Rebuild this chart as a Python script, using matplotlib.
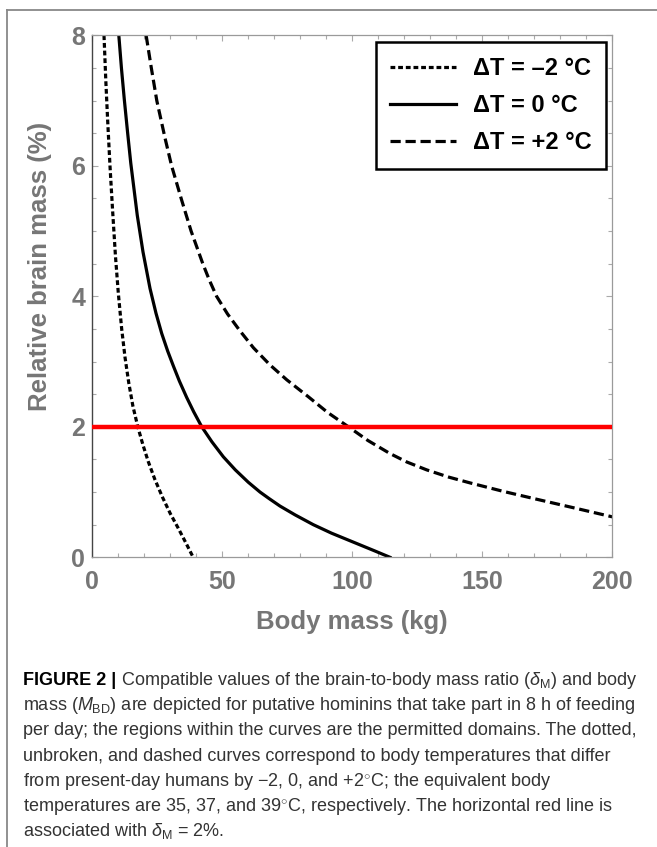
import matplotlib
matplotlib.use("Agg")
import matplotlib.pyplot as plt
from matplotlib.lines import Line2D

# values
mass_cold = [4.5, 5.2, 5.9, 6.8, 7.8, 8.9, 10.0, 11.3, 12.6, 14.0, 15.6, 17.5, 19.5, 21.5,
             24.0, 27.0, 30.0, 33.0, 36.0, 38.8]
ratio_cold = [8.0, 7.3, 6.7, 6.0, 5.32, 4.62, 4.05, 3.5, 3.06, 2.68, 2.32, 2.0, 1.72, 1.47,
              1.2, 0.92, 0.67, 0.45, 0.22, 0.0]

mass_now = [10.2, 11.2, 12.3, 13.6, 14.8, 17.3, 19.5, 22.2, 24.5, 26.7, 29.0, 31.2, 33.5, 36.3,
            39.0, 42.1, 46.0, 50.4, 55.0, 60.0, 64.5, 68.0, 72.2, 78.0, 85.0, 92.0, 97.8,
            103.0, 108.5, 114.5]
ratio_now = [8.0, 7.5, 7.02, 6.5, 6.04, 5.24, 4.68, 4.12, 3.74, 3.43, 3.16, 2.93, 2.7, 2.45,
             2.23, 2.0, 1.77, 1.54, 1.34, 1.15, 1.0, 0.9, 0.785, 0.65, 0.5, 0.37, 0.275,
             0.19, 0.1, 0.0]

mass_warm = [20.7, 22.7, 24.8, 28.0, 30.5, 34.4, 38.0, 42.5, 45.0, 47.8, 52.0, 56.8, 62.0, 68.3,
             74.8, 83.1, 90.5, 98.5, 106.0, 114.5, 121.0, 128.6, 137.0, 145.3, 158.1, 170.9,
             185.0, 200.0]
ratio_warm = [8.0, 7.5, 7.0, 6.42, 6.0, 5.47, 5.0, 4.5, 4.25, 4.0, 3.73, 3.47, 3.21, 2.95,
              2.72, 2.46, 2.22, 2.0, 1.79, 1.59, 1.46, 1.34, 1.23, 1.14, 1.01, 0.89, 0.76, 0.62]

red_level = 2
labels = ["\u0394T = \u20132 \u00b0C", "\u0394T = 0 \u00b0C", "\u0394T = +2 \u00b0C"]
x_ticks = [0, 50, 100, 150, 200]
y_ticks = [0, 2, 4, 6, 8]

caption = [
    r" Compatible values of the brain-to-body mass ratio ($\delta_{\rm M}$) and body",
    r"mass ($M_{\rm BD}$) are depicted for putative hominins that take part in 8 h of feeding",
    r"per day; the regions within the curves are the permitted domains. The dotted,",
    r"unbroken, and dashed curves correspond to body temperatures that differ",
    r"from present-day humans by $-2$, 0, and $+2^{\circ}$C; the equivalent body",
    r"temperatures are 35, 37, and 39$^{\circ}$C, respectively. The horizontal red line is",
    r"associated with $\delta_{\rm M}$ = 2%.",
]

plt.rcParams['font.family'] = ['Liberation Sans', 'DejaVu Sans']
plt.rcParams['mathtext.fontset'] = 'custom'
plt.rcParams['mathtext.rm'] = 'Liberation Sans'
plt.rcParams['mathtext.it'] = 'Liberation Sans:italic'
plt.rcParams['mathtext.bf'] = 'Liberation Sans:bold'

W, H = 657, 847
fig = plt.figure(figsize=(W / 100, H / 100), dpi=100)
ax = fig.add_axes([92.3 / W, 1 - 557.3 / H, 520 / W, 522 / H])

gray = '#767676'
ax.plot(mass_cold, ratio_cold, color='black', lw=2.3, linestyle=(0, (1.5, 0.9)), label=labels[0])
ax.plot(mass_now, ratio_now, color='black', lw=2.3, label=labels[1])
ax.plot(mass_warm, ratio_warm, color='black', lw=2.3, linestyle=(0, (3.2, 1.5)), label=labels[2])
ax.axhline(red_level, color='#ff0000', lw=3.2, zorder=3)

ax.set_xlim(0, 200)
ax.set_ylim(0, 8)
ax.set_xticks(x_ticks)
ax.set_yticks(y_ticks)
ax.set_xticks(range(0, 201, 10), minor=True)
ax.set_yticks([v / 2 for v in range(0, 17)], minor=True)
ax.tick_params(which='both', direction='in', top=True, right=True, color='#aaaaaa', width=0.8)
ax.tick_params(which='major', length=4)
ax.tick_params(which='minor', length=3)
ax.tick_params(axis='x', which='major', pad=9)
ax.tick_params(axis='y', which='major', pad=5)
for lab in ax.get_xticklabels() + ax.get_yticklabels():
    lab.set_fontsize(18)
    lab.set_fontweight('bold')
    lab.set_color(gray)
for side in ['top', 'right', 'bottom']:
    ax.spines[side].set_color('#9a9a9a')
    ax.spines[side].set_linewidth(0.9)
ax.spines['left'].set_color('#444444')
ax.spines['left'].set_linewidth(1.0)

ax.set_xlabel('Body mass (kg)', fontsize=18.5, fontweight='bold', color=gray, labelpad=12)
ax.set_ylabel('Relative brain mass (%)', fontsize=18.5, fontweight='bold', color=gray)
ax.yaxis.set_label_coords(-0.078, 0.558)

leg = ax.legend(loc='upper right', bbox_to_anchor=(0.988, 0.9866), borderaxespad=0,
                fancybox=False, framealpha=1, edgecolor='black', handlelength=2.8,
                handletextpad=0.7, labelspacing=0.6, borderpad=0.62,
                prop={'size': 17, 'weight': 'bold'})
leg.get_frame().set_linewidth(1.8)

# figure border (top and left edges only)
fig.add_artist(Line2D([7 / W, 1], [1 - 10 / H, 1 - 10 / H], color='#888888', lw=1.3))
fig.add_artist(Line2D([7 / W, 7 / W], [0, 1 - 10 / H], color='#888888', lw=1.3))

# caption
renderer = fig.canvas.get_renderer()
cap_size = 13
x0 = 23 / W
base = 685
step = 25.2
head = fig.text(x0, 1 - base / H, 'FIGURE 2 |', fontsize=cap_size, fontweight='bold',
                color='black', va='baseline')
hw = head.get_window_extent(renderer=renderer).width
for i, line in enumerate(caption):
    xs = x0 + (hw / W if i == 0 else 0)
    fig.text(xs, 1 - (base + i * step) / H, line, fontsize=cap_size, color='#333333',
             va='baseline')

plt.savefig('out.png', dpi=100)
